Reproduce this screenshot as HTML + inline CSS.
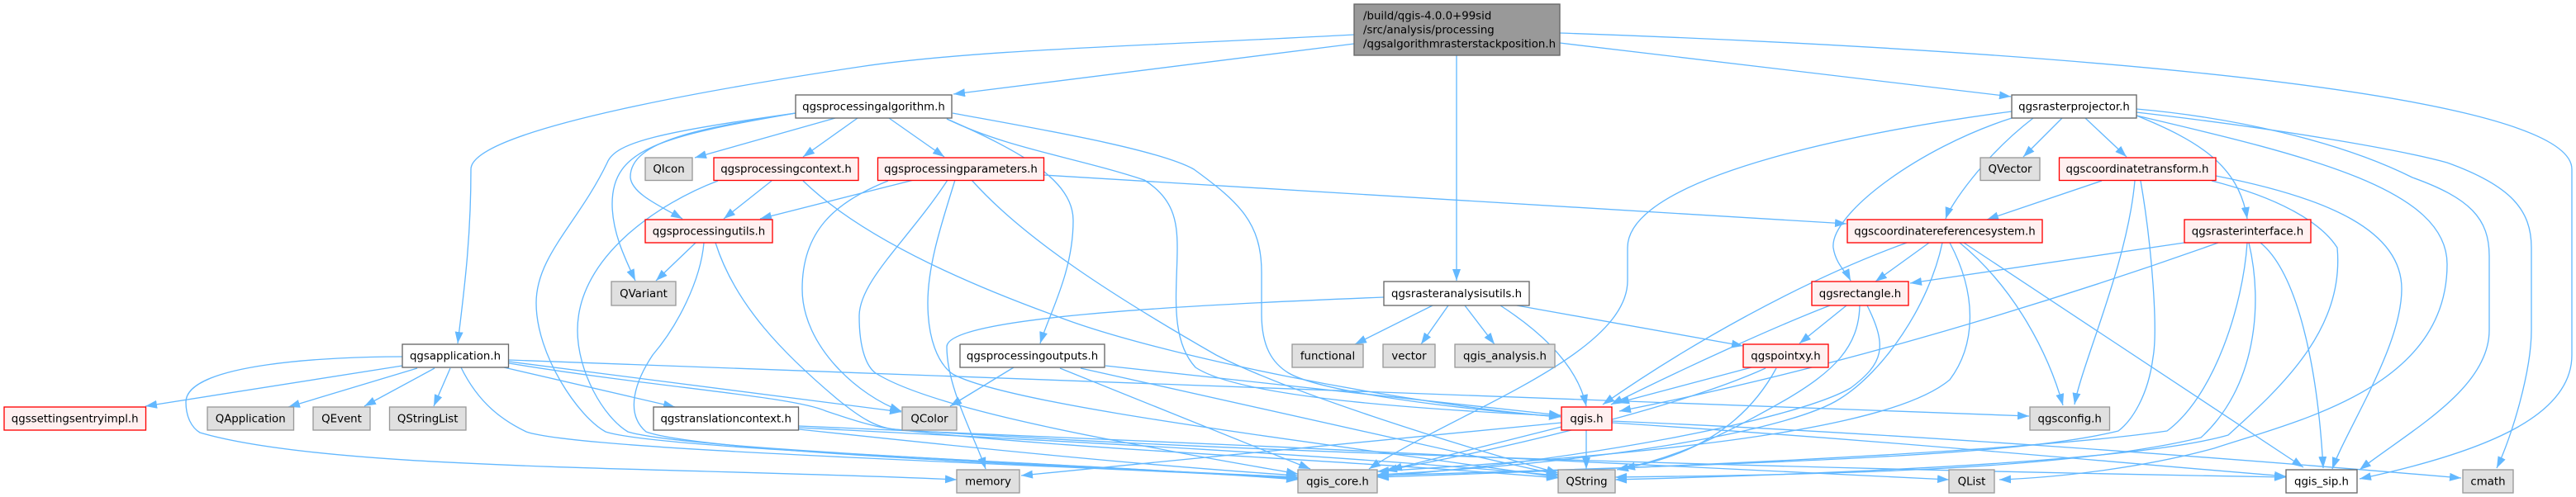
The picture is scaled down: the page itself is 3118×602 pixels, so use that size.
<!DOCTYPE html>
<html>
<head>
<meta charset="utf-8">
<style>
html,body{margin:0;padding:0;background:#fff;}
svg{display:block;}
text{font-family:"DejaVu Sans",sans-serif;font-size:13.33px;fill:#000;}
.c{text-anchor:middle;}
.g{fill:#e0e0e0;stroke:#999999;stroke-width:1.33;}
.w{fill:#ffffff;stroke:#666666;stroke-width:1.33;}
.r{fill:#fff0f0;stroke:#ff0000;stroke-width:1.33;}
.k{fill:#999999;stroke:#666666;stroke-width:1.33;}
</style>
</head>
<body>
<svg width="3118" height="602" viewBox="0 0 3118 602" xmlns="http://www.w3.org/2000/svg">
<defs>
<marker id="a" markerUnits="userSpaceOnUse" markerWidth="16" markerHeight="12" refX="14" refY="5" orient="auto">
<path d="M0,0 L14,5 L0,10 z" fill="#63b8ff"/>
</marker>
</defs>
<rect width="3118" height="602" fill="#fff"/>
<g fill="none" stroke="#63b8ff" stroke-width="1.33" marker-end="url(#a)">
<!-- root -->
<path d="M1639,42 C1380,56 1180,60 1040,81 C900,102 570,155 570,205 C570,290 562,350 554,416"/>
<path d="M1639,53 L1154,114"/>
<path d="M1888,52 L2434,117"/>
<path d="M1763,67 L1763,340"/>
<path d="M1888,40 C2330,55 3113,100 3113,205 L3113,430 C3113,500 3020,545 2856,580"/>
<!-- algorithm -->
<path d="M1011,143 L841,191"/>
<path d="M1038,143 L972,190"/>
<path d="M1076,143 L1143,190"/>
<path d="M963,137 C850,155 762,170 763,215 C765,235 800,250 826,265"/>
<path d="M963,137 C800,165 741,180 741,247 C741,280 755,310 769,340"/>
<path d="M963,137 C800,160 745,172 735,197 C700,270 649,310 649,367 C649,430 700,505 733,523 C800,545 1300,560 1571,581"/>
<path d="M1146,144 C1240,185 1299,220 1299,267 C1299,330 1270,380 1259,416"/>
<path d="M1146,144 C1220,180 1300,190 1385,218 C1420,240 1425,267 1425,300 C1425,350 1415,410 1447,445 C1500,480 1700,495 1889,504"/>
<path d="M1153,137 C1250,155 1400,180 1445,205 C1500,245 1527,270 1527,330 L1527,380 C1527,420 1540,440 1560,452 C1600,475 1760,495 1889,505"/>
<!-- parameters -->
<path d="M1263,212 L2235,271"/>
<path d="M1106,218 L920,265"/>
<path d="M1075,219 C1010,245 971,280 971,350 C971,420 1040,480 1091,498"/>
<path d="M1147,218 C1100,290 1040,340 1040,383 C1040,425 1050,445 1060,452 C1120,490 1300,525 1400,543 C1460,555 1520,565 1571,574"/>
<path d="M1156,218 C1140,270 1123,320 1123,367 C1123,410 1135,440 1153,453 C1220,490 1550,530 1886,578"/>
<path d="M1176,218 C1240,290 1350,360 1472,430 C1560,475 1750,535 1886,573"/>
<!-- context -->
<path d="M934,219 L876,265"/>
<path d="M869,219 C800,245 699,310 699,400 C699,450 730,505 760,523 C830,545 1300,562 1571,580"/>
<path d="M972,219 C1040,285 1160,340 1279,383 C1400,430 1700,490 1889,505"/>
<!-- utils -->
<path d="M842,294 L794,340"/>
<path d="M852,294 C848,340 820,395 790,430 C770,460 755,500 782,523 C850,548 1300,565 1571,578"/>
<path d="M866,294 C890,370 950,430 1013,483 C1040,505 1060,518 1083,520 C1300,545 1600,555 1886,579"/>
<!-- application -->
<path d="M487,432 C400,432 225,440 225,487 C225,505 232,518 242,524 C400,570 800,565 1158,581"/>
<path d="M487,443 L176,492"/>
<path d="M505,446 L349,493"/>
<path d="M526,446 L441,492"/>
<path d="M545,446 L525,492"/>
<path d="M558,445 C580,490 610,510 637,523 C700,545 1200,560 1571,579"/>
<path d="M616,436 C1100,455 1700,475 2456,504"/>
<path d="M616,438 L1091,499"/>
<path d="M616,440 C800,470 960,480 1000,498 C1030,508 1060,518 1083,520 C1500,550 2300,570 2767,578"/>
<path d="M610,445 L817,493"/>
<!-- translation -->
<path d="M967,516 C1400,535 2000,560 2359,581"/>
<path d="M967,518 C1300,535 1600,550 1886,576"/>
<path d="M967,520 C1200,545 1400,565 1571,576"/>
<!-- outputs -->
<path d="M1227,445 L1150,492"/>
<path d="M1283,446 L1586,568"/>
<path d="M1308,446 L1886,575"/>
<path d="M1338,443 L1889,503"/>
<!-- analysis utils -->
<path d="M1675,360 C1420,370 1146,385 1146,420 C1146,470 1180,530 1193,568"/>
<path d="M1734,370 L1640,417"/>
<path d="M1753,370 L1720,417"/>
<path d="M1773,370 L1809,417"/>
<path d="M1816,370 C1870,405 1910,445 1920,492"/>
<path d="M1836,370 L2110,419"/>
<!-- projector -->
<path d="M2435,135 C2280,155 1970,210 1970,300 L1970,340 C1970,430 1760,500 1657,568"/>
<path d="M2435,143 C2320,180 2215,260 2219,300 C2222,320 2235,330 2240,340"/>
<path d="M2461,143 C2400,190 2360,250 2355,265"/>
<path d="M2496,143 L2449,190"/>
<path d="M2524,143 L2574,190"/>
<path d="M2586,140 C2660,170 2710,200 2720,265"/>
<path d="M2586,132 C2700,142 2830,170 2920,215 C2990,240 3013,265 3013,310 L3013,400 C3013,470 2920,520 2856,569"/>
<path d="M2586,136 C2750,155 2900,180 2962,197 C3040,225 3064,255 3064,300 L3064,400 C3064,450 3040,530 3022,567"/>
<path d="M2586,140 C2800,190 2962,230 2962,320 C2962,470 2780,510 2680,543 C2600,565 2500,578 2420,581"/>
<!-- transform -->
<path d="M2544,219 L2405,266"/>
<path d="M2584,219 C2575,320 2520,440 2511,490"/>
<path d="M2591,219 C2605,300 2612,400 2606,433 C2600,480 2580,510 2564,522 C2450,550 2200,560 1667,576"/>
<path d="M2677,219 C2760,240 2810,270 2829,300 C2838,400 2760,470 2697,527 C2600,555 2300,572 1955,581"/>
<path d="M2682,213 C2820,240 2907,280 2907,350 C2907,420 2840,520 2823,568"/>
<!-- raster interface -->
<path d="M2644,294 L2312,343"/>
<path d="M2685,294 C2500,360 2230,445 1960,498"/>
<path d="M2720,294 C2715,370 2680,480 2623,522 C2500,540 2200,560 1667,578"/>
<path d="M2722,294 C2740,370 2730,470 2664,530 C2500,570 2200,575 1955,578"/>
<path d="M2736,294 C2780,330 2805,440 2812,567"/>
<!-- crs -->
<path d="M2335,294 L2270,341"/>
<path d="M2308,294 C2180,340 2040,420 1940,490"/>
<path d="M2351,294 C2335,370 2280,450 2227,483 C2170,520 1950,560 1667,575"/>
<path d="M2360,294 C2395,360 2390,420 2360,460 C2300,510 2100,545 1667,571"/>
<path d="M2372,294 C2440,350 2480,430 2497,491"/>
<path d="M2377,294 L2788,566"/>
<!-- rectangle -->
<path d="M2235,370 L2178,416"/>
<path d="M2215,370 C2150,395 2040,445 1950,490"/>
<path d="M2251,370 C2250,420 2220,450 2160,485 C2090,525 2030,555 1957,569"/>
<path d="M2260,370 C2285,420 2280,440 2240,470 C2170,510 1900,560 1667,577"/>
<!-- pointxy -->
<path d="M2120,445 L1958,488"/>
<path d="M2137,446 C2040,490 1840,540 1677,570"/>
<path d="M2150,446 C2110,520 2040,555 1965,567"/>
<!-- qgis.h -->
<path d="M1920,521 L1920,568"/>
<path d="M1890,517 L1683,569"/>
<path d="M1890,512 C1700,530 1450,555 1236,576"/>
<path d="M1951,510 C2300,525 2700,555 2979,579"/>
<path d="M1951,512 C2300,535 2500,555 2767,577"/>
</g>

<!-- nodes -->
<rect class="k" x="1639" y="5" width="249" height="62"/>
<text x="1650" y="23.5">/build/qgis-4.0.0+99sid</text>
<text x="1650" y="40.5">/src/analysis/processing</text>
<text x="1650" y="57.5">/qgsalgorithmrasterstackposition.h</text>

<rect class="w" x="963" y="115" width="189" height="28"/><text class="c" x="1057.5" y="133.5">qgsprocessingalgorithm.h</text>
<rect class="w" x="2435" y="115" width="151" height="28"/><text class="c" x="2510.5" y="133.5">qgsrasterprojector.h</text>

<rect class="g" x="781" y="191" width="57" height="27.5"/><text class="c" x="809.5" y="209">QIcon</text>
<rect class="r" x="864" y="191" width="175" height="27.5"/><text class="c" x="951.5" y="209">qgsprocessingcontext.h</text>
<rect class="r" x="1062.5" y="191" width="201" height="27.5"/><text class="c" x="1163" y="209">qgsprocessingparameters.h</text>
<rect class="g" x="2397" y="191" width="72" height="27.5"/><text class="c" x="2433" y="209">QVector</text>
<rect class="r" x="2492.5" y="191" width="189.5" height="27.5"/><text class="c" x="2587" y="209">qgscoordinatetransform.h</text>

<rect class="r" x="781" y="266" width="154" height="28"/><text class="c" x="858" y="284.5">qgsprocessingutils.h</text>
<rect class="r" x="2236" y="266" width="236" height="28"/><text class="c" x="2354" y="284.5">qgscoordinatereferencesystem.h</text>
<rect class="r" x="2644" y="266" width="153" height="28"/><text class="c" x="2720.5" y="284.5">qgsrasterinterface.h</text>

<rect class="g" x="740" y="341" width="78" height="29"/><text class="c" x="779" y="360">QVariant</text>
<rect class="w" x="1675" y="341" width="176" height="29"/><text class="c" x="1763" y="360">qgsrasteranalysisutils.h</text>
<rect class="r" x="2193" y="341" width="117" height="29"/><text class="c" x="2251.5" y="360">qgsrectangle.h</text>

<rect class="w" x="487" y="417" width="128.5" height="28"/><text class="c" x="551" y="435.5">qgsapplication.h</text>
<rect class="w" x="1162" y="417" width="175" height="28"/><text class="c" x="1249.5" y="435.5">qgsprocessingoutputs.h</text>
<rect class="g" x="1564" y="417" width="86" height="28"/><text class="c" x="1607" y="435.5">functional</text>
<rect class="g" x="1674" y="417" width="63" height="28"/><text class="c" x="1705.5" y="435.5">vector</text>
<rect class="g" x="1761" y="417" width="121" height="28"/><text class="c" x="1821.5" y="435.5">qgis_analysis.h</text>
<rect class="r" x="2110" y="417" width="103" height="28"/><text class="c" x="2161.5" y="435.5">qgspointxy.h</text>

<rect class="r" x="5" y="493" width="171.5" height="28"/><text class="c" x="90.7" y="511.5">qgssettingsentryimpl.h</text>
<rect class="g" x="251" y="493" width="104.5" height="28"/><text class="c" x="303.2" y="511.5">QApplication</text>
<rect class="g" x="379" y="493" width="69" height="28"/><text class="c" x="413.5" y="511.5">QEvent</text>
<rect class="g" x="471.5" y="493" width="92.5" height="28"/><text class="c" x="517.7" y="511.5">QStringList</text>
<rect class="w" x="791" y="493" width="175.5" height="28"/><text class="c" x="878.7" y="511.5">qgstranslationcontext.h</text>
<rect class="g" x="1092" y="493" width="66" height="28"/><text class="c" x="1125" y="511.5">QColor</text>
<rect class="r" x="1890" y="493" width="61" height="28"/><text class="c" x="1920.5" y="511.5">qgis.h</text>
<rect class="g" x="2457" y="493" width="96.5" height="28"/><text class="c" x="2505.2" y="511.5">qgsconfig.h</text>

<rect class="g" x="1158" y="569" width="76" height="28"/><text class="c" x="1196" y="587.5">memory</text>
<rect class="g" x="1571" y="569" width="96" height="28"/><text class="c" x="1619" y="587.5">qgis_core.h</text>
<rect class="g" x="1886" y="569" width="69" height="28"/><text class="c" x="1920.5" y="587.5">QString</text>
<rect class="g" x="2359" y="569" width="55" height="28"/><text class="c" x="2386.5" y="587.5">QList</text>
<rect class="w" x="2767" y="569" width="86" height="28"/><text class="c" x="2810" y="587.5">qgis_sip.h</text>
<rect class="g" x="2981" y="569" width="61" height="28"/><text class="c" x="3011.5" y="587.5">cmath</text>
</svg>
</body>
</html>
